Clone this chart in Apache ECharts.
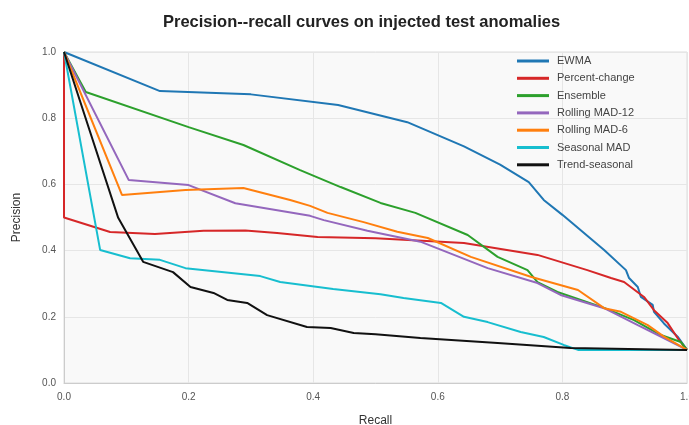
<!DOCTYPE html>
<html>
<head>
<meta charset="utf-8">
<script src="https://cdn.jsdelivr.net/npm/echarts@6/dist/echarts.min.js"></script>
<style>
  html, body { margin: 0; padding: 0; background: #fff; }
  #chart { width: 689px; height: 425px; }
</style>
</head>
<body>
<div id="chart"></div>
<script>
// [recall, precision] points
var ewma = [[0, 1.0], [0.154, 0.882], [0.3, 0.872], [0.44, 0.84], [0.551, 0.788], [0.642, 0.715], [0.70, 0.66],
  [0.746, 0.607], [0.77, 0.553], [0.80, 0.508], [0.867, 0.402], [0.902, 0.341], [0.907, 0.317], [0.921, 0.29],
  [0.926, 0.26], [0.945, 0.236], [0.947, 0.215], [0.963, 0.18], [0.985, 0.14], [1.0, 0.1]];
var percentChange = [[0, 1.0], [0, 0.5], [0.074, 0.456], [0.146, 0.45], [0.224, 0.46], [0.291, 0.461], [0.342, 0.453],
  [0.407, 0.441], [0.5, 0.437], [0.642, 0.423], [0.76, 0.387], [0.84, 0.341], [0.878, 0.317], [0.899, 0.305],
  [0.931, 0.26], [0.947, 0.22], [0.969, 0.181], [0.987, 0.13], [1.0, 0.1]];
var ensemble = [[0, 1.0], [0.035, 0.879], [0.2, 0.773], [0.288, 0.719], [0.379, 0.643], [0.444, 0.592], [0.508, 0.544],
  [0.564, 0.514], [0.648, 0.447], [0.696, 0.381], [0.744, 0.341], [0.76, 0.305], [0.792, 0.275], [0.867, 0.227],
  [0.915, 0.19], [0.958, 0.145], [0.99, 0.124], [1.0, 0.1]];
var rollingMad12 = [[0, 1.0], [0.104, 0.613], [0.2, 0.598], [0.275, 0.543], [0.395, 0.505], [0.417, 0.492],
  [0.487, 0.46], [0.572, 0.427], [0.68, 0.347], [0.76, 0.302], [0.797, 0.266], [0.867, 0.226], [0.921, 0.175],
  [0.953, 0.145], [1.0, 0.1]];
var rollingMad6 = [[0, 1.0], [0.093, 0.568], [0.195, 0.583], [0.288, 0.589], [0.363, 0.553], [0.395, 0.535],
  [0.423, 0.514], [0.481, 0.486], [0.535, 0.457], [0.584, 0.438], [0.653, 0.381], [0.749, 0.321], [0.825, 0.281],
  [0.867, 0.226], [0.894, 0.215], [0.937, 0.175], [0.963, 0.14], [1.0, 0.1]];
var seasonalMad = [[0, 1.0], [0.058, 0.402], [0.106, 0.377], [0.154, 0.372], [0.195, 0.347], [0.315, 0.323],
  [0.347, 0.305], [0.432, 0.284], [0.508, 0.268], [0.545, 0.257], [0.605, 0.242], [0.642, 0.2], [0.68, 0.184],
  [0.733, 0.154], [0.77, 0.139], [0.802, 0.115], [0.825, 0.1], [1.0, 0.1]];
var trendSeasonal = [[0, 1.0], [0.087, 0.499], [0.127, 0.366], [0.175, 0.335], [0.203, 0.29], [0.24, 0.272],
  [0.262, 0.251], [0.294, 0.242], [0.326, 0.205], [0.39, 0.169], [0.428, 0.166], [0.465, 0.151], [0.5, 0.147],
  [0.572, 0.136], [0.696, 0.121], [0.813, 0.106], [1.0, 0.1]];

var names = ['EWMA', 'Percent-change', 'Ensemble', 'Rolling MAD-12', 'Rolling MAD-6', 'Seasonal MAD', 'Trend-seasonal'];
var colors = ['#1f77b4', '#d62728', '#2ca02c', '#9467bd', '#ff7f0e', '#17becf', '#111111'];
var curves = [ewma, percentChange, ensemble, rollingMad12, rollingMad6, seasonalMad, trendSeasonal];

var chart = echarts.init(document.getElementById('chart'));

var series = names.map(function (name, i) {
  return {
    name: name,
    type: 'line',
    data: curves[i],
    showSymbol: false,
    symbol: 'none',
    lineStyle: { width: 2, color: colors[i] },
    itemStyle: { color: colors[i] },
    animation: false
  };
});

var axisLabelFmt = function (v) { return v.toFixed(1); };

chart.setOption({
  animation: false,
  title: {
    text: 'Precision--recall curves on injected test anomalies',
    left: 158,
    top: 9,
    textStyle: { fontFamily: 'Liberation Sans', fontSize: 16.5, fontWeight: 'bold', color: '#222' }
  },
  legend: {
    orient: 'vertical',
    left: 512,
    top: 49,
    itemWidth: 32,
    itemHeight: 3,
    itemGap: 3.3,
    icon: 'rect',
    textStyle: { fontFamily: 'Liberation Sans', fontSize: 11, color: '#444', lineHeight: 14, padding: [0, 0, 0, 3] },
    data: names
  },
  grid: {
    left: 64,
    right: 2,
    top: 52,
    bottom: 42,
    outerBoundsMode: 'none',
    containLabel: false,
    show: true,
    backgroundColor: '#f9f9f9',
    borderColor: '#dddddd',
    borderWidth: 1
  },
  xAxis: {
    type: 'value',
    min: 0,
    max: 1,
    interval: 0.2,
    name: 'Recall',
    nameLocation: 'middle',
    nameGap: 32,
    nameTextStyle: { fontFamily: 'Liberation Sans', fontSize: 12, color: '#333' },
    axisLine: { show: true, lineStyle: { color: '#cccccc' } },
    axisTick: { show: false },
    axisLabel: { formatter: axisLabelFmt, fontFamily: 'Liberation Sans', fontSize: 10, color: '#555', margin: 9 },
    splitLine: { show: true, lineStyle: { color: '#e6e6e6' } }
  },
  yAxis: {
    type: 'value',
    min: 0,
    max: 1,
    interval: 0.2,
    name: 'Precision',
    nameLocation: 'middle',
    nameGap: 41,
    nameTextStyle: { fontFamily: 'Liberation Sans', fontSize: 12, color: '#333' },
    axisLine: { show: true, lineStyle: { color: '#cccccc' } },
    axisTick: { show: false },
    axisLabel: { formatter: axisLabelFmt, fontFamily: 'Liberation Sans', fontSize: 10, color: '#555', margin: 8 },
    splitLine: { show: true, lineStyle: { color: '#e6e6e6' } }
  },
  series: series
});
</script>
</body>
</html>
